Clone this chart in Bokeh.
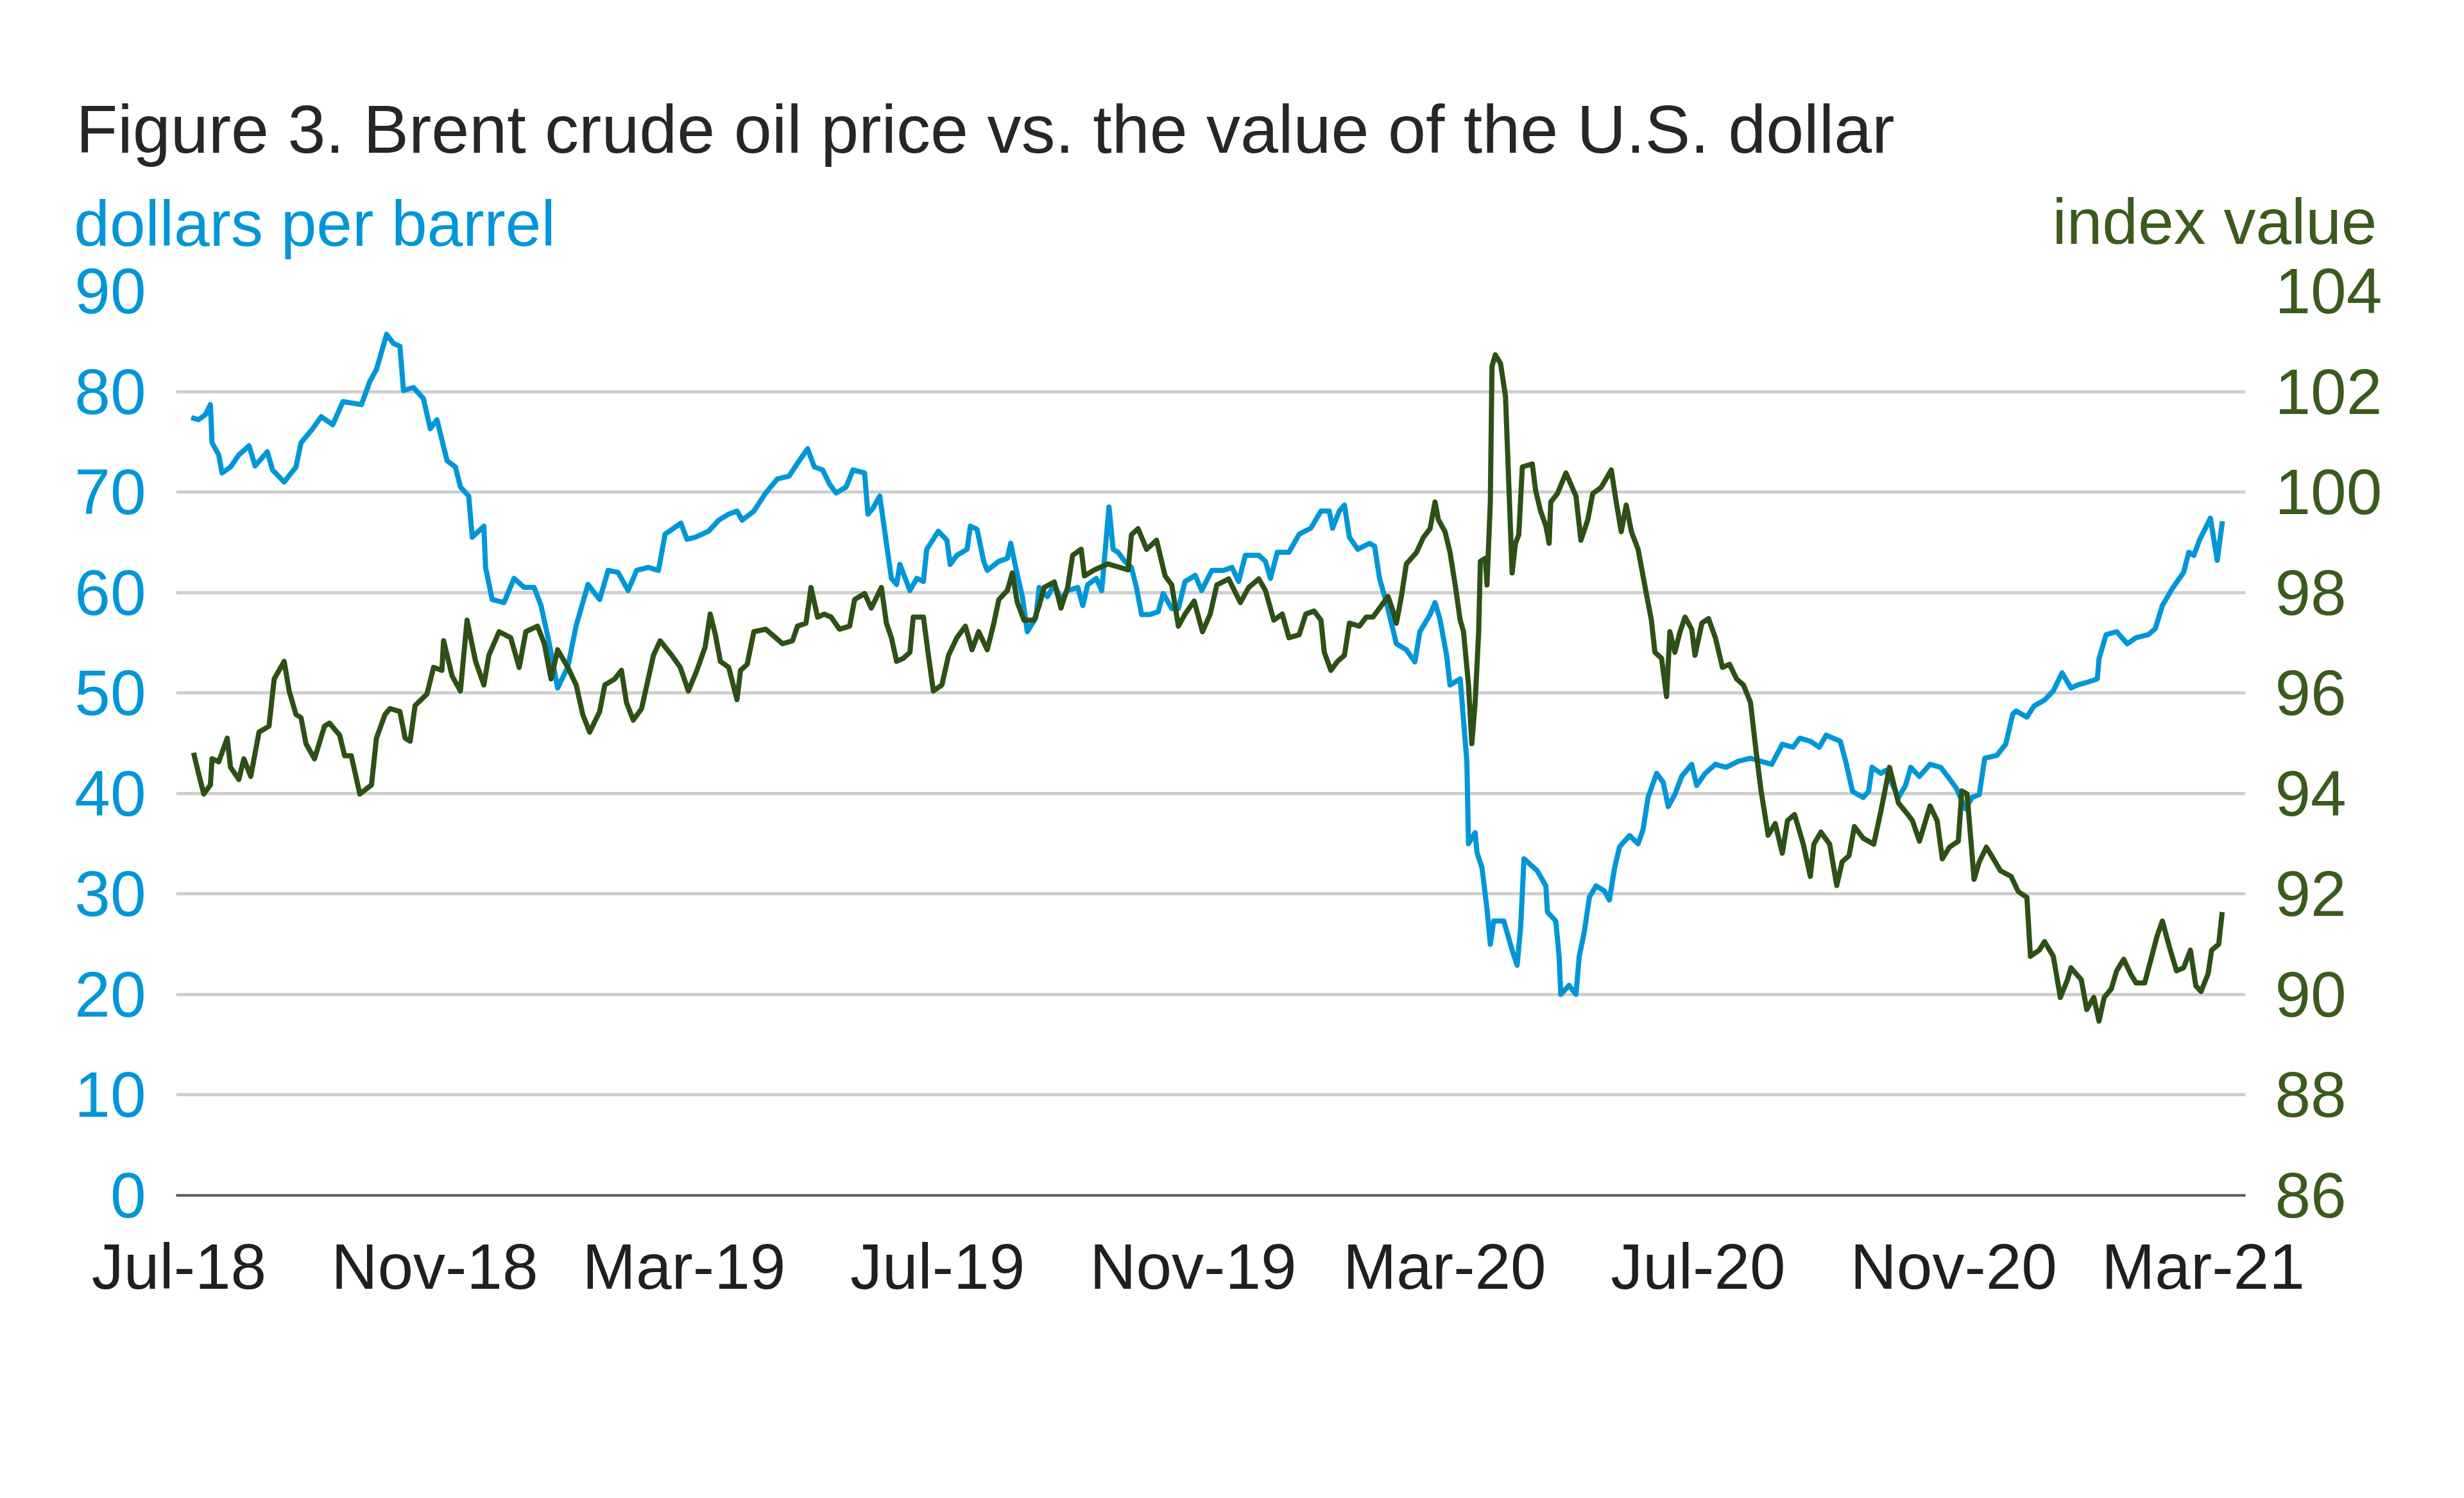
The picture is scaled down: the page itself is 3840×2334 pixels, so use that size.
import pandas as pd
from bokeh.plotting import figure
from bokeh.models import Range1d, LinearAxis, FixedTicker, Legend, LegendItem
from bokeh.embed import file_html
from bokeh.resources import INLINE

# ---------------- data ----------------
DAY0 = "2018-07-01"          # x values are days counted from this date

title_text = "Figure 3. Brent crude oil price vs. the value of the U.S. dollar"
left_unit = "dollars per barrel"
right_unit = "index value"
series_names = ["Brent front-month price", "U.S. dollar index value"]

tick_dates = ["2018-07-01", "2018-11-01", "2019-03-01", "2019-07-01", "2019-11-01",
              "2020-03-01", "2020-07-01", "2020-11-01", "2021-03-01"]
tick_labels = ["Jul-18", "Nov-18", "Mar-19", "Jul-19", "Nov-19", "Mar-20", "Jul-20", "Nov-20", "Mar-21"]
price_ticks = [0, 10, 20, 30, 40, 50, 60, 70, 80, 90]
index_ticks = [86, 88, 90, 92, 94, 96, 98, 100, 102, 104]

brent_days = [
    5.9, 9.4, 12.7, 15.1, 15.9, 19.1, 20.7, 24.8, 28.8, 33.7, 36.6, 42.5, 45.0, 50.6, 56.3, 58.7,
    64.3, 68.4, 74.0, 78.9, 87.8, 91.8, 95.0, 99.9, 103.1, 106.3, 108.0, 112.8, 117.6, 120.9, 124.1,
    129.0, 133.0, 135.4, 139.4, 141.1, 146.7, 147.5, 150.7, 156.4, 161.2, 166.1, 170.9, 174.2, 178.2,
    182.2, 187.1, 191.1, 196.8, 202.4, 206.5, 211.3, 216.1, 220.2, 225.8, 230.7, 233.9, 241.5, 244.4,
    248.4, 254.8, 259.7, 264.5, 268.5, 271.0, 276.6, 282.3, 287.9, 293.6, 298.4, 302.5, 305.7, 309.7,
    313.0, 316.2, 321.0, 324.3, 329.9, 331.5, 334.0, 337.2, 340.4, 342.8, 345.3, 346.9, 351.7, 355.0,
    358.2, 359.8, 365.4, 369.5, 371.1, 374.3, 379.2, 380.8, 384.0, 387.2, 388.9, 394.5, 398.6, 400.2,
    402.6, 405.8, 408.2, 412.3, 413.9, 417.9, 421.2, 424.4, 427.6, 432.5, 434.9, 437.3, 441.4, 444.0,
    447.5, 449.5, 451.9, 455.1, 458.3, 460.7, 463.2, 467.2, 471.2, 473.6, 477.7, 480.9, 484.1, 489.0,
    492.1, 497.0, 502.6, 506.7, 509.9, 513.1, 519.6, 522.8, 525.2, 528.5, 534.1, 539.0, 544.6, 549.5,
    553.5, 555.1, 558.3, 560.8, 563.2, 567.2, 572.9, 575.3, 577.7, 581.0, 585.8, 590.6, 594.7, 597.1,
    602.0, 604.4, 606.8, 610.0, 611.6, 616.5, 618.1, 619.7, 620.5, 623.7, 624.6, 627.0, 629.4, 631.0,
    632.6, 637.5, 641.5, 643.9, 645.6, 647.2, 650.4, 653.6, 657.7, 658.5, 662.5, 664.1, 664.9, 668.9,
    672.2, 673.8, 676.2, 678.7, 681.9, 685.9, 688.3, 690.8, 693.2, 698.0, 702.1, 704.5, 706.9, 711.0,
    714.2, 716.6, 719.8, 723.1, 727.9, 730.3, 734.4, 739.3, 744.4, 750.3, 756.2, 761.3, 766.4, 771.5,
    776.6, 779.9, 785.0, 789.3, 792.6, 799.4, 802.0, 805.3, 810.4, 813.0, 814.7, 818.9, 821.4, 827.4,
    830.8, 833.3, 837.5, 842.6, 847.7, 851.1, 855.3, 859.5, 862.9, 866.3, 868.9, 874.8, 879.0, 882.4,
    884.1, 889.2, 892.6, 897.7, 901.9, 906.1, 910.4, 913.7, 918.8, 923.1, 923.9, 927.3, 932.4, 937.5,
    941.7, 947.6, 951.0, 954.4, 959.5, 964.6, 967.1, 969.6, 972.2, 975.6, 977.5, 980.8, 983.3]
brent_price = [
    77.4, 77.2, 77.7, 78.7, 74.9, 73.7, 71.9, 72.5, 73.7, 74.6, 72.6, 74.0, 72.2, 71.0, 72.5, 74.9,
    76.3, 77.5, 76.7, 79.0, 78.7, 81.0, 82.2, 85.7, 84.8, 84.5, 80.1, 80.4, 79.3, 76.3, 77.2,
    73.1, 72.5, 70.5, 69.6, 65.5, 66.6, 62.5, 59.3, 59.0, 61.4, 60.5, 60.5, 58.7, 54.9,
    50.5, 52.6, 56.7, 60.8, 59.3, 62.2, 62.0, 60.2, 62.2, 62.5, 62.2, 65.8, 66.9, 65.3,
    65.5, 66.1, 67.2, 67.8, 68.1, 67.2, 68.1, 69.9, 71.3, 71.6, 73.1, 74.3, 72.5, 72.2,
    70.8, 69.9, 70.5, 72.2, 71.9, 67.8, 68.4, 69.6, 64.9, 61.4, 60.8, 62.8, 60.2, 61.4,
    61.1, 64.3, 66.1, 65.2, 62.8, 63.7, 64.3, 66.6, 66.3, 63.1, 62.2, 63.1, 63.4, 64.9,
    62.5, 59.6, 56.1, 57.5, 60.5, 59.6, 60.8, 59.3, 60.2, 60.5, 58.7, 60.8, 61.4, 60.2,
    68.5, 64.3, 64.0, 63.1, 62.5, 60.5, 57.8, 57.8, 58.1, 59.9, 58.4, 58.4, 61.1, 61.7,
    60.2, 62.2, 62.2, 62.5, 61.1, 63.7, 63.7, 63.1, 61.4, 64.0, 64.0, 65.8, 66.4, 68.1,
    68.1, 66.4, 68.1, 68.7, 65.5, 64.3, 64.9, 64.6, 61.4, 59.0, 54.9, 54.3, 53.1, 56.1,
    57.8, 59.0, 57.3, 53.7, 50.8, 51.4, 47.3, 43.2, 35.0, 36.1, 34.1, 32.6, 28.5, 25.0,
    27.3, 27.3, 24.4, 22.9, 26.7, 33.5, 32.9, 32.3, 30.8, 28.2, 27.3, 23.8, 20.0, 20.9,
    20.0, 23.8, 26.2, 29.7, 30.8, 30.3, 29.4, 32.6, 34.7, 35.8, 35.0, 36.4, 39.6, 42.0,
    41.1, 38.7, 39.9, 41.7, 42.9, 40.8, 42.0, 42.9, 42.6, 43.2, 43.5, 43.2, 42.9, 44.9,
    44.6, 45.5, 45.2, 44.6, 45.8, 45.2, 43.2, 40.2, 39.6, 40.2, 42.6, 42.0, 42.3, 39.6,
    40.8, 42.6, 41.7, 42.9, 42.6, 41.7, 40.5, 38.5, 39.6, 39.9, 43.5, 43.8, 44.9, 47.9,
    48.2, 47.6, 48.7, 49.3, 50.2, 52.0, 50.5, 50.8, 51.1, 51.4, 53.4, 55.8, 56.1, 54.9,
    55.5, 55.8, 56.4, 58.7, 60.5, 62.0, 64.0, 63.7, 65.2, 66.6, 67.4, 63.2, 67.1]

usd_days = [
    7.0, 9.4, 11.9, 15.1, 15.9, 19.1, 23.2, 24.8, 28.8, 31.2, 34.5, 38.5, 43.3, 45.8, 50.6, 53.0,
    56.3, 58.7, 61.1, 65.2, 70.0, 72.4, 77.3, 79.7, 82.9, 87.0, 92.6, 95.0, 99.1, 101.5, 106.3,
    108.8, 111.2, 113.6, 119.3, 122.5, 126.5, 127.3, 131.4, 135.4, 138.6, 142.7, 146.7, 149.1, 154.0,
    159.6, 163.7, 166.9, 172.5, 175.8, 179.0, 182.2, 187.1, 191.1, 194.3, 197.6, 202.4, 204.9, 209.7,
    212.9, 215.3, 218.6, 222.6, 228.3, 231.5, 237.1, 241.2, 245.1, 249.2, 253.2, 255.6, 258.1, 260.5,
    264.5, 268.5, 270.2, 273.4, 276.6, 282.3, 287.1, 290.4, 295.2, 297.6, 301.7, 304.1, 307.3, 310.5,
    313.8, 317.8, 322.7, 325.1, 329.9, 333.1, 338.0, 340.4, 342.8, 345.3, 348.5, 351.7, 353.3, 358.2,
    360.6, 363.0, 367.1, 370.3, 374.3, 378.4, 381.6, 384.8, 388.9, 392.1, 394.5, 398.6, 401.0, 403.4,
    406.6, 411.5, 413.9, 416.3, 421.2, 424.4, 427.6, 430.0, 434.1, 435.7, 440.5, 443.8, 447.0, 451.9,
    456.7, 458.3, 461.5, 465.6, 470.4, 474.5, 477.7, 480.9, 484.1, 488.5, 492.5, 496.2, 499.4, 505.1,
    510.7, 514.7, 519.6, 522.8, 526.8, 530.9, 534.1, 539.0, 542.2, 546.2, 549.5, 551.1, 554.3, 557.5,
    560.8, 563.2, 568.0, 571.3, 574.5, 577.7, 581.8, 584.2, 585.8, 588.2, 590.6, 595.5, 598.7, 602.0,
    604.4, 606.0, 609.2, 611.6, 614.1, 616.5, 618.1, 620.5, 622.1, 623.7, 625.4, 626.2, 628.6, 629.4,
    631.0, 631.8, 633.4, 635.9, 638.3, 639.9, 641.5, 643.1, 644.7, 646.4, 651.2, 652.8, 655.2, 657.7,
    659.3, 660.1, 663.3, 667.4, 672.2, 674.6, 677.9, 680.3, 684.3, 689.2, 691.6, 694.0, 696.4, 698.9,
    702.1, 705.3, 708.5, 710.2, 713.4, 715.8, 717.4, 719.8, 722.3, 724.7, 727.9, 729.5, 732.8, 736.0,
    739.3, 742.7, 746.1, 749.5, 752.8, 756.2, 758.8, 761.3, 764.7, 768.1, 771.5, 774.0, 777.4, 781.6,
    785.0, 786.7, 790.1, 794.3, 797.7, 800.3, 803.6, 806.2, 810.4, 815.5, 818.9, 823.1, 827.4, 830.8,
    834.1, 837.5, 842.6, 846.0, 848.5, 851.9, 856.2, 857.9, 860.4, 863.8, 866.3, 869.7, 873.1, 876.5,
    881.6, 885.0, 889.2, 890.9, 895.1, 897.7, 901.9, 905.3, 908.7, 910.4, 915.4, 918.0, 921.4, 923.9,
    926.4, 929.8, 932.4, 935.8, 939.1, 941.7, 945.9, 949.3, 951.9, 954.4, 957.8, 961.2, 964.6, 967.9,
    970.5, 973.0, 976.4, 978.1, 981.5, 983.2]
usd_index = [
    94.81, 94.40, 93.99, 94.17, 94.69, 94.63, 95.10, 94.52, 94.28, 94.69, 94.34, 95.22, 95.34, 96.28, 96.63, 96.04,
    95.57, 95.51, 94.99, 94.69, 95.34, 95.40, 95.16, 94.75, 94.75, 93.99, 94.17, 95.10, 95.57, 95.69, 95.63,
    95.10, 95.04, 95.75, 95.98, 96.51, 96.45, 97.04, 96.34, 96.04, 97.45, 96.63, 96.16, 96.75, 97.22,
    97.10, 96.51, 97.22, 97.33, 96.98, 96.28, 96.86, 96.51, 96.16, 95.57, 95.22, 95.63, 96.16, 96.28,
    96.45, 95.81, 95.46, 95.69, 96.75, 97.04, 96.75, 96.51, 96.04, 96.45, 96.92, 97.57, 97.16, 96.63,
    96.51, 95.87, 96.45, 96.57, 97.22, 97.27, 97.10, 96.98, 97.04, 97.33, 97.39, 98.10, 97.51, 97.57,
    97.51, 97.27, 97.33, 97.86, 97.98, 97.69, 98.10, 97.39, 97.10, 96.63, 96.69, 96.81, 97.51, 97.51,
    96.75, 96.04, 96.16, 96.75, 97.10, 97.33, 96.86, 97.22, 96.86, 97.39, 97.86, 98.04, 98.39, 97.80,
    97.45, 97.45, 97.74, 98.10, 98.21, 97.69, 98.10, 98.74, 98.86, 98.33, 98.45, 98.51, 98.57, 98.51,
    98.45, 99.15, 99.27, 98.86, 99.04, 98.33, 98.15, 97.33, 97.57, 97.83, 97.22, 97.57, 98.15, 98.27,
    97.80, 98.10, 98.27, 98.04, 97.45, 97.57, 97.10, 97.16, 97.57, 97.63, 97.45, 96.81, 96.45, 96.63,
    96.75, 97.39, 97.33, 97.51, 97.51, 97.69, 97.92, 97.63, 97.39, 97.92, 98.57, 98.80, 99.09, 99.27,
    99.80, 99.45, 99.21, 98.80, 98.15, 97.45, 97.22, 96.16, 94.99, 95.81, 97.22, 98.62, 98.68, 98.15,
    99.80, 102.50, 102.73, 102.56, 101.91, 100.15, 98.39, 98.98, 99.15, 100.50, 100.56, 100.03, 99.62, 99.33,
    98.98, 99.80, 99.97, 100.38, 99.92, 99.04, 99.45, 99.97, 100.09, 100.44, 99.80, 99.21, 99.74, 99.21,
    98.86, 98.15, 97.45, 96.81, 96.69, 95.93, 97.22, 96.81, 97.22, 97.51, 97.27, 96.75, 97.39, 97.48,
    97.10, 96.51, 96.57, 96.28, 96.16, 95.81, 94.87, 94.05, 93.17, 93.40, 92.81, 93.46, 93.58, 92.99,
    92.35, 92.99, 93.23, 92.99, 92.17, 92.64, 92.76, 93.34, 93.11, 92.99, 93.64, 94.52, 93.81, 93.64,
    93.46, 93.05, 93.75, 93.46, 92.70, 92.93, 93.05, 94.05, 93.99, 92.29, 92.64, 92.93, 92.70, 92.46,
    92.35, 92.05, 91.93, 90.76, 90.88, 91.05, 90.76, 89.94, 90.29, 90.53, 90.29, 89.70, 89.94, 89.47,
    89.94, 90.11, 90.47, 90.70, 90.41, 90.23, 90.23, 90.76, 91.17, 91.46, 90.94, 90.47, 90.53, 90.88,
    90.17, 90.06, 90.41, 90.88, 91.00, 91.64]

# ---------------- style ----------------
BLUE = "#0096D7"
GREEN_LINE = "#2D5016"
GREEN_TEXT = "#3B5A1E"
TITLE_COLOR = "#262626"
LEGEND_COLOR = "#44546A"
TICK_COLOR = "#1F1F1F"
GRID_COLOR = "#CFCFCF"
FONT = "Liberation Sans"
FS = "100px"

FIG_W, FIG_H = 3824, 2318
LEFT, RIGHT, TOP, BOTTOM = 274, 325, 453, 456
FRAME_W = FIG_W - LEFT - RIGHT

t0 = pd.Timestamp(DAY0)
tick_days = [(pd.Timestamp(d) - t0).days for d in tick_dates]

p = figure(width=FIG_W, height=FIG_H,
           x_range=Range1d(-1.39, 994.4), y_range=Range1d(0, 90),
           output_backend="svg", toolbar_location=None,
           min_border_left=LEFT, min_border_right=RIGHT,
           min_border_top=TOP, min_border_bottom=BOTTOM)
p.outline_line_color = None
p.background_fill_color = "white"
p.border_fill_color = "white"
p.title.visible = False

p.extra_y_ranges = {"usd": Range1d(86, 104)}
p.extra_x_ranges = {"px": Range1d(0, FRAME_W)}   # pixel ruler used only to place header texts


def plain_axis(axis, color, standoff, size=FS):
    axis.axis_line_color = None
    axis.major_tick_line_color = None
    axis.minor_tick_line_color = None
    axis.major_tick_in = 0
    axis.major_tick_out = 0
    axis.major_label_standoff = standoff
    axis.major_label_text_font = FONT
    axis.major_label_text_font_size = size
    axis.major_label_text_color = color


# grid
p.xgrid.visible = False
p.ygrid.ticker = FixedTicker(ticks=price_ticks)
p.ygrid.grid_line_color = GRID_COLOR
p.ygrid.grid_line_width = 5

# x axis (month labels)
xa = p.xaxis[0]
xa.ticker = FixedTicker(ticks=tick_days, minor_ticks=[])
xa.major_label_overrides = dict(zip(tick_days, tick_labels))
plain_axis(xa, TICK_COLOR, 54)
xa.axis_line_color = "#595959"
xa.axis_line_width = 4

# left axis
ya = p.yaxis[0]
ya.ticker = FixedTicker(ticks=price_ticks, minor_ticks=[])
plain_axis(ya, BLUE, 47)

# right axis
ra = LinearAxis(y_range_name="usd", ticker=FixedTicker(ticks=index_ticks, minor_ticks=[]))
plain_axis(ra, GREEN_TEXT, 46)
p.add_layout(ra, "right")


# header texts drawn as tick labels of unlined axes above the plot
def header_axis(pos, text, color, standoff, size=FS):
    ax = LinearAxis(x_range_name="px", ticker=FixedTicker(ticks=[pos], minor_ticks=[]),
                    major_label_overrides={pos: text})
    plain_axis(ax, color, standoff, size)
    return ax


p.add_layout(header_axis(216, left_unit, BLUE, 50), "above")
p.add_layout(header_axis(3177, right_unit, GREEN_TEXT, -112), "above")
p.add_layout(header_axis(1261, title_text, TITLE_COLOR, 26, size="106px"), "above")

# series
r_brent = p.line(x=brent_days, y=brent_price, line_color=BLUE, line_width=8, line_join="round")
r_usd = p.line(x=usd_days, y=usd_index, y_range_name="usd", line_color=GREEN_LINE,
               line_width=8, line_join="round")

# legend, placed under the x-axis labels (offset from the frame's bottom-left corner)
legend = Legend(items=[LegendItem(label=series_names[0], renderers=[r_brent]),
                       LegendItem(label=series_names[1], renderers=[r_usd])],
                orientation="horizontal", location=(512, -387),
                glyph_width=101, glyph_height=20, label_standoff=30, spacing=15,
                padding=0, margin=0, border_line_color=None, background_fill_alpha=0,
                label_text_font=FONT, label_text_font_size=FS, label_text_color=LEGEND_COLOR)
p.add_layout(legend)

open("out.html", "w").write(file_html(p, INLINE))
